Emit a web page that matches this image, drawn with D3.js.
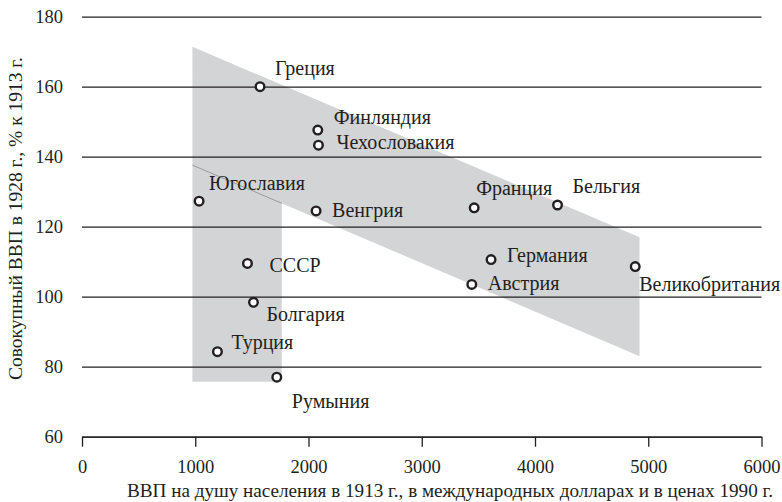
<!DOCTYPE html>
<html>
<head>
<meta charset="utf-8">
<script src="https://cdn.jsdelivr.net/npm/d3@7"></script>
<style>
	body { margin: 0; background: #fff; }
</style>
</head>
<body>
<div id="chart"></div>
<script>
// Data
const countries = ["Греция", "Финляндия", "Чехословакия", "Венгрия", "Франция", "Бельгия",
	"Германия", "Австрия", "Великобритания", "Югославия", "СССР", "Болгария", "Турция", "Румыния"];
const gdpPerCapita1913 = [1572, 2082, 2088, 2067, 3463, 4199, 3612, 3442, 4885, 1034, 1461, 1514, 1196, 1720];
const gdpIndex1928 = [160, 147.6, 143.3, 124.5, 125.4, 126.2, 110.6, 103.5, 108.6, 127.3, 109.5, 98.4, 84.3, 77];

const xTicks = [0, 1000, 2000, 3000, 4000, 5000, 6000];
const yTicks = [60, 80, 100, 120, 140, 160, 180];

// shaded zones (data units)
const bandX = [975, 4923];
const bandTop = [171.4, 117];
const bandBottom = [137.6, 83];
const boxX = [975, 1764];
const boxBottom = 75.7;

// label placement (pixels from the marker)
const labelOffsets = [[15, -12], [16, -6], [18, 4], [16, 6], [2, -13], [15, -12], [16, 2],
	[16, 6], [4, 24], [10, -11], [22, 9], [13, 19], [14, -3], [15, 31]];

const width = 782;
const height = 502;
const margin = { top: 16.7, right: 20.5, bottom: 65.3, left: 82 };
const serif = "'Liberation Serif'";
const ink = "#231f20";

const svg = d3
	.select("#chart")
	.append("svg")
	.attr("width", width)
	.attr("height", height)
	.style("font-family", serif);

const x = d3.scaleLinear().domain([0, 6000]).range([margin.left, width - margin.right]);
const y = d3.scaleLinear().domain([60, 180]).range([height - margin.bottom, margin.top]);

// band lower edge as a function of x
const bandLow = (v) => bandBottom[0] + (bandBottom[1] - bandBottom[0]) * (v - bandX[0]) / (bandX[1] - bandX[0]);

const line = d3.line().x((d) => x(d[0])).y((d) => y(d[1]));
const grey = "#d3d4d5";

// left box
svg.append("path")
	.attr("d", line([[boxX[0], boxBottom], [boxX[1], boxBottom], [boxX[1], bandLow(boxX[1])], [boxX[0], bandLow(boxX[0])]]) + "Z")
	.attr("fill", grey);

// slanted band
svg.append("path")
	.attr("d", line([[bandX[0], bandTop[0]], [bandX[1], bandTop[1]], [bandX[1], bandBottom[1]], [bandX[0], bandBottom[0]]]) + "Z")
	.attr("fill", grey);

// thin edge where the two shapes meet
svg.append("path")
	.attr("d", line([[boxX[0], bandLow(boxX[0])], [boxX[1], bandLow(boxX[1])]]))
	.attr("stroke", "#9a9a9a")
	.attr("stroke-width", 1)
	.attr("fill", "none");

// horizontal grid + y labels
const yAxis = svg.append("g")
	.attr("transform", "translate(" + margin.left + ",0)")
	.call(d3.axisLeft(y).tickValues(yTicks).tickSize(-(width - margin.left - margin.right)).tickPadding(19).tickFormat(d3.format("d")));
yAxis.select(".domain").remove();
yAxis.selectAll("line").attr("stroke", ink).attr("stroke-width", 1.3);
yAxis.selectAll("text").style("font-size", "18.5px").style("font-family", serif).attr("fill", ink);

// x axis
const xAxis = svg.append("g")
	.attr("transform", "translate(0," + y(60) + ")")
	.call(d3.axisBottom(x).tickValues(xTicks).tickSize(10).tickSizeOuter(0).tickPadding(13).tickFormat(d3.format("d")));
xAxis.select(".domain").attr("stroke", ink).attr("stroke-width", 1.3);
xAxis.selectAll("line").attr("stroke", ink).attr("stroke-width", 1.3);
xAxis.selectAll("text").style("font-size", "18.5px").style("font-family", serif).attr("fill", ink);

// points
svg.selectAll(".pt")
	.data(countries)
	.enter()
	.append("circle")
	.attr("class", "pt")
	.attr("cx", (d, i) => x(gdpPerCapita1913[i]))
	.attr("cy", (d, i) => y(gdpIndex1928[i]))
	.attr("r", 4.3)
	.attr("fill", "#fff")
	.attr("stroke", ink)
	.attr("stroke-width", 2.4);

svg.selectAll(".lbl")
	.data(countries)
	.enter()
	.append("text")
	.attr("class", "lbl")
	.attr("x", (d, i) => x(gdpPerCapita1913[i]) + labelOffsets[i][0])
	.attr("y", (d, i) => y(gdpIndex1928[i]) + labelOffsets[i][1])
	.style("font-size", "20px")
	.attr("fill", ink)
	.text((d) => d);

// axis titles
svg.append("text")
	.attr("x", 127)
	.attr("y", 497)
	.attr("textLength", 646)
	.attr("lengthAdjust", "spacingAndGlyphs")
	.style("font-size", "19px")
	.attr("fill", ink)
	.text("ВВП на душу населения в 1913 г., в международных долларах и в ценах 1990 г.");

svg.append("text")
	.attr("transform", "rotate(-90)")
	.attr("x", -380)
	.attr("y", 22)
	.attr("textLength", 323)
	.attr("lengthAdjust", "spacingAndGlyphs")
	.style("font-size", "19px")
	.attr("fill", ink)
	.text("Совокупный ВВП в 1928 г., % к 1913 г.");
</script>
</body>
</html>
